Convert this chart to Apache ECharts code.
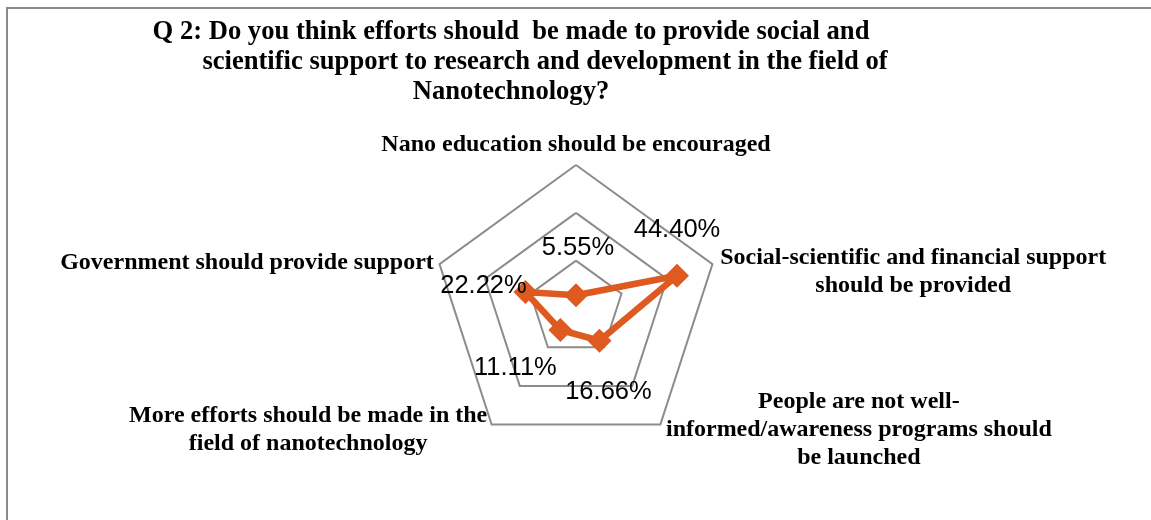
<!DOCTYPE html>
<html>
<head>
<meta charset="utf-8">
<script src="https://cdn.jsdelivr.net/npm/echarts@6/dist/echarts.min.js"></script>
<style>
  html, body { margin: 0; padding: 0; background: #fff; }
  #chart { width: 1151px; height: 520px; }
</style>
</head>
<body>
<div id="chart"></div>
<script>
// categories, counter-clockwise from the top (ECharts radar order)
const categories = [
    'Nano education should be encouraged',
    'Government should provide support',
    'More efforts should be made in the\nfield of nanotechnology',
    'People are not well-\ninformed/awareness programs should\nbe launched',
    'Social-scientific and financial support\nshould be provided',
]
const values = [5.55, 22.22, 11.11, 16.66, 44.40]
const axisMax = 60

const titleLines = [
    'Q 2: Do you think efforts should  be made to provide social and',
    'scientific support to research and development in the field of',
    'Nanotechnology?',
]

// where each value label sits relative to its marker
const labelOffsets = [[2, -47], [-42, -6], [-45, 38], [9, 51], [0, -46]]

const orange = '#DE5A20'
const serif = '"Liberation Serif", "Times New Roman", serif'

const chart = echarts.init(document.getElementById('chart'))

const nameKeys = ['n0', 'n1', 'n2', 'n3', 'n4']

const labelSeries = values.map((v, k) => ({
    type: 'radar',
    silent: true,
    symbol: 'circle',
    symbolSize: 1,
    itemStyle: { color: 'rgba(0,0,0,0)' },
    lineStyle: { width: 0, opacity: 0 },
    label: {
        show: true,
        position: 'inside',
        offset: labelOffsets[k],
        color: '#000',
        fontFamily: '"Liberation Sans", Arial, sans-serif',
        fontSize: 25.5,
        formatter: (p) => (p.value === v ? v.toFixed(2) + '%' : ''),
    },
    data: [{ value: values.map((x, i) => (i === k ? x : 0)) }],
}))

const nameStyle = { fontFamily: serif, fontWeight: 'bold', fontSize: 24, lineHeight: 28, color: '#000' }

const option = {
    animation: false,
    backgroundColor: '#fff',
    title: {
        text: titleLines.map((l, i) => (i === 1 ? '{b|' + l + '}' : '{a|' + l + '}')).join('\n'),
        left: 506,
        top: 12,
        textAlign: 'center',
        textStyle: {
            rich: {
                a: { fontFamily: serif, fontWeight: 'bold', fontSize: 26.6, lineHeight: 30, color: '#000' },
                b: { fontFamily: serif, fontWeight: 'bold', fontSize: 26.6, lineHeight: 30, color: '#000', padding: [0, 0, 0, 68] },
            },
        },
    },
    graphic: [
        {
            type: 'rect',
            shape: { x: 7, y: 8, width: 1300, height: 700 },
            style: { fill: 'none', stroke: '#8a8a8a', lineWidth: 2 },
            silent: true,
        },
    ],
    radar: {
        center: [576, 308.5],
        radius: 143.5,
        startAngle: 90,
        shape: 'polygon',
        splitNumber: 3,
        nameGap: 6,
        indicator: categories.map((c) => ({ name: c, min: 0, max: axisMax })),
        axisName: {
            formatter: (name) => {
                const k = categories.indexOf(name)
                const body = name.split('\n').map((l) => '{' + nameKeys[k] + '|' + l + '}').join('\n')
                // push the right-hand label down a little
                return k === 4 ? '{sp| }\n' + body : body
            },
            rich: {
                sp: { fontSize: 1, lineHeight: 18 },
                n0: nameStyle,
                n1: nameStyle,
                n2: { ...nameStyle, width: 360, align: 'center' },
                n3: { ...nameStyle, width: 390, align: 'center' },
                n4: { ...nameStyle, width: 390, align: 'center' },
            },
        },
        axisLine: { show: false },
        axisTick: { show: false },
        axisLabel: { show: false },
        splitArea: { show: false },
        splitLine: { lineStyle: { color: '#8c8c8c', width: 2 } },
    },
    series: [
        {
            type: 'radar',
            symbol: 'diamond',
            symbolSize: 24,
            itemStyle: { color: orange },
            lineStyle: { color: orange, width: 6.5 },
            data: [{ value: values, name: 'Q2' }],
        },
        ...labelSeries,
    ],
}

chart.setOption(option)
window.addEventListener('resize', () => chart.resize())
</script>
</body>
</html>
